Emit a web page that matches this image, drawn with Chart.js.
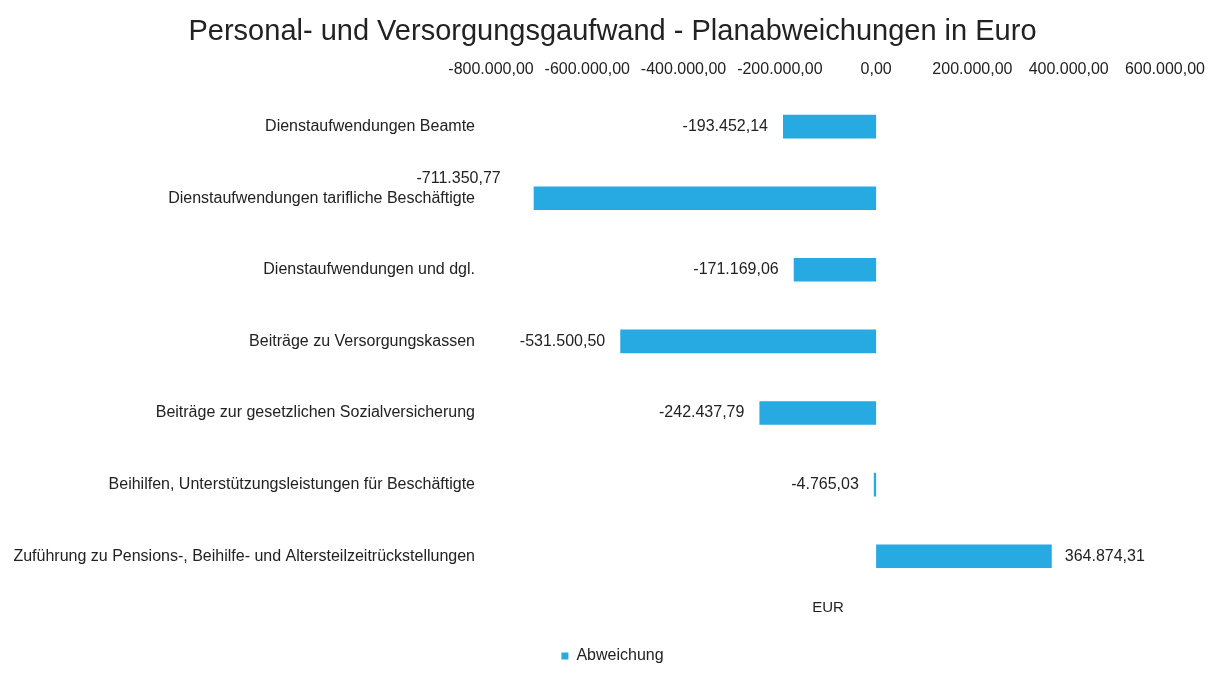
<!DOCTYPE html>
<html lang="de">
<head>
    <meta charset="UTF-8">
    <title>Personal- und Versorgungsgaufwand</title>
    <style>
        html, body { margin: 0; padding: 0; background: #fff; }
        #wrap { width: 1217px; height: 674px; position: relative; }
    </style>
</head>
<body>
<div id="wrap">
    <canvas id="myChart"></canvas>
</div>

<script src="https://cdn.jsdelivr.net/npm/chart.js"></script>
<script>
    // Daten
    const kategorien = [
        'Dienstaufwendungen Beamte',
        'Dienstaufwendungen tarifliche Beschäftigte',
        'Dienstaufwendungen und dgl.',
        'Beiträge zu Versorgungskassen',
        'Beiträge zur gesetzlichen Sozialversicherung',
        'Beihilfen, Unterstützungsleistungen für Beschäftigte',
        'Zuführung zu Pensions-, Beihilfe- und Altersteilzeitrückstellungen'
    ];
    const abweichung = [-193452.14, -711350.77, -171169.06, -531500.50, -242437.79, -4765.03, 364874.31];
    const achseMin = -800000;
    const achseMax = 600000;
    const achseSchritt = 200000;

    const schrift = '"Liberation Sans", Arial, sans-serif';
    const textFarbe = '#222';

    function euro(v) {
        const neg = v < 0;
        const s = Math.abs(v).toFixed(2).split('.');
        const ganz = s[0].replace(/\B(?=(\d{3})+(?!\d))/g, '.');
        return (neg ? '-' : '') + ganz + ',' + s[1];
    }

    // Werte an die Balken schreiben
    const wertLabels = {
        id: 'wertLabels',
        afterDatasetsDraw(chart) {
            const ctx = chart.ctx;
            const meta = chart.getDatasetMeta(0);
            const area = chart.chartArea;
            ctx.save();
            ctx.font = '16px ' + schrift;
            ctx.fillStyle = textFarbe;
            ctx.textBaseline = 'middle';
            meta.data.forEach((bar, i) => {
                const v = abweichung[i];
                const txt = euro(v);
                const w = ctx.measureText(txt).width;
                if (v >= 0) {
                    ctx.textAlign = 'left';
                    ctx.fillText(txt, bar.x + 13, bar.y);
                } else if (bar.x - 15 - w < area.left + 10) {
                    // passt nicht neben den Balken -> darüber
                    ctx.textAlign = 'right';
                    ctx.fillText(txt, bar.x - 33, bar.y - 20);
                } else {
                    ctx.textAlign = 'right';
                    ctx.fillText(txt, bar.x - 15, bar.y);
                }
            });
            ctx.restore();
        }
    };

    const ctx = document.getElementById('myChart');

    new Chart(ctx, {
        type: 'bar',
        data: {
            labels: kategorien,
            datasets: [{
                label: 'Abweichung',
                data: abweichung,
                backgroundColor: '#27a9e1',
                borderWidth: 0,
                barPercentage: 0.66,
                categoryPercentage: 0.5
            }]
        },
        plugins: [wertLabels],
        options: {
            indexAxis: 'y',
            responsive: true,
            maintainAspectRatio: false,
            animation: false,
            layout: {
                padding: { left: 8, right: 0, top: 0, bottom: 0 }
            },
            plugins: {
                title: {
                    display: true,
                    text: 'Personal- und Versorgungsgaufwand - Planabweichungen in Euro',
                    color: textFarbe,
                    font: { family: schrift, size: 29, weight: 'normal' },
                    padding: { top: 15, bottom: 5 }
                },
                legend: {
                    position: 'bottom',
                    labels: {
                        boxWidth: 7,
                        boxHeight: 7,
                        color: textFarbe,
                        font: { family: schrift, size: 16 },
                        padding: 6
                    }
                },
                tooltip: { enabled: false }
            },
            scales: {
                x: {
                    position: 'top',
                    min: achseMin,
                    max: achseMax,
                    grid: { display: false, drawTicks: false },
                    border: { display: false },
                    ticks: {
                        stepSize: achseSchritt,
                        color: textFarbe,
                        padding: 12,
                        maxRotation: 0,
                        autoSkip: false,
                        font: { family: schrift, size: 16 },
                        callback: v => euro(v)
                    },
                    afterFit: s => { s.height = 36; }
                },
                x2: {
                    type: 'linear',
                    position: 'bottom',
                    grid: { display: false, drawTicks: false },
                    border: { display: false },
                    ticks: { display: false },
                    title: {
                        display: true,
                        text: 'EUR',
                        color: textFarbe,
                        font: { family: schrift, size: 15 },
                        padding: { top: 0, bottom: 25 }
                    },
                    afterFit: s => { s.height = 50; }
                },
                y: {
                    grid: { display: false, drawTicks: false },
                    border: { display: false },
                    ticks: {
                        color: textFarbe,
                        padding: 16,
                        font: { family: schrift, size: 16 }
                    },
                    afterFit: s => { s.width = 483; }
                },
                y2: {
                    type: 'linear',
                    position: 'right',
                    grid: { display: false, drawTicks: false },
                    border: { display: false },
                    ticks: { display: false },
                    afterFit: s => { s.width = 49; }
                }
            }
        }
    });
</script>
</body>
</html>
